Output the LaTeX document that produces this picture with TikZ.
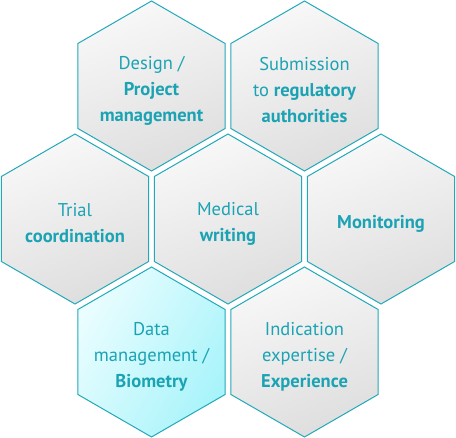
\documentclass[tikz,border=0pt]{standalone}
\usepackage{fontspec}
\setmainfont{PT Sans}
\usetikzlibrary{shapes.geometric}
\definecolor{teal1}{HTML}{1BA3B4}
\definecolor{edge1}{HTML}{22A9B9}
\definecolor{glight}{HTML}{F8F8F8}
\definecolor{gdark}{HTML}{DEDEDE}
\definecolor{clight}{HTML}{EAFDFF}
\definecolor{cdark}{HTML}{A8F4FA}
\tikzset{
  hexbox/.style={regular polygon, regular polygon sides=6, shape border rotate=30,
    minimum size=170pt, inner sep=0pt, outer sep=0pt, draw=edge1, line width=1pt},
  hextext/.style={text=teal1, align=center, inner sep=0pt, yshift=-4.5pt,
    font=\fontsize{18.5}{26}\selectfont},
  grayfill/.style={left color=glight, right color=gdark, shading angle=20},
  cyanfill/.style={left color=clight, right color=cdark, shading angle=60},
}
\begin{document}
\begin{tikzpicture}[x=1pt,y=-1pt]
\useasboundingbox (0,0) rectangle (456,438);
\node[hexbox,grayfill] (design) at (151.5,86) {};
\node[hexbox,grayfill] (submission) at (304.5,86) {};
\node[hexbox,grayfill] (trial) at (75,219) {};
\node[hexbox,grayfill] (medical) at (228,219) {};
\node[hexbox,grayfill] (monitoring) at (381,219) {};
\node[hexbox,cyanfill] (data) at (151.5,352) {};
\node[hexbox,grayfill] (indication) at (304.5,352) {};
\node[hextext] (designT) at (design.center) {Design /\\\textbf{Project}\\\textbf{management}};
\node[hextext] (submissionT) at (submission.center) {Submission\\to \textbf{regulatory}\\\textbf{authorities}};
\node[hextext] (trialT) at (trial.center) {Trial\\\textbf{coordination}};
\node[hextext] (medicalT) at (medical.center) {Medical\\\textbf{writing}};
\node[hextext] (monitoringT) at (monitoring.center) {\textbf{Monitoring}};
\node[hextext] (dataT) at (data.center) {Data\\management /\\\textbf{Biometry}};
\node[hextext] (indicationT) at (indication.center) {Indication\\expertise /\\\textbf{Experience}};
\end{tikzpicture}
\end{document}
